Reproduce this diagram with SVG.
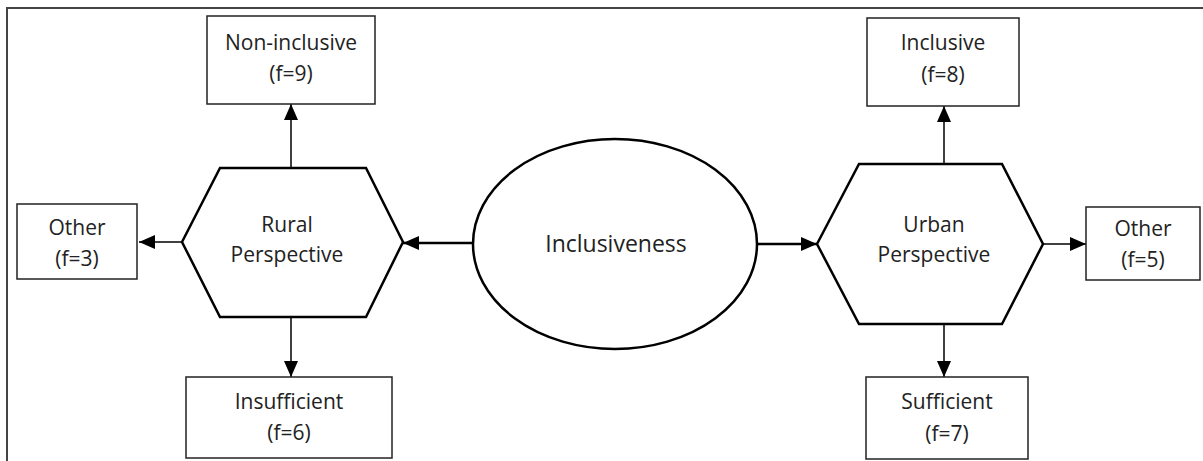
<svg xmlns="http://www.w3.org/2000/svg" width="1203" height="461" viewBox="0 0 1203 461">
  <style>
    .frame { fill: none; stroke: #444; stroke-width: 2; }
    .box { fill: #fff; stroke: #222; stroke-width: 1.5; }
    .hex { fill: #fff; stroke: #000; stroke-width: 2.5; stroke-linejoin: miter; }
    .oval { fill: #fff; stroke: #000; stroke-width: 2.5; }
    .thin { fill: none; stroke: #000; stroke-width: 1.5; }
    .thick { fill: none; stroke: #000; stroke-width: 2.5; }
    text { font-family: "Open Sans", "Liberation Sans", sans-serif; font-size: 21px; fill: #222; text-anchor: middle; }
    .big { font-size: 23px; }
  </style>
  <defs>
    <marker id="arrow" markerUnits="userSpaceOnUse" markerWidth="16" markerHeight="14" refX="16" refY="7" orient="auto">
      <path d="M0,0 L16,7 L0,14 Z" fill="#000"/>
    </marker>
  </defs>
  <rect width="1203" height="461" fill="#fff"/>

  <!-- page frame: top and left rules only -->
  <path class="frame" d="M7,461 V8 H1203"/>

  <!-- connectors -->
  <g id="connectors">
    <line class="thick" x1="473" y1="243" x2="403" y2="243" marker-end="url(#arrow)"/>
    <line class="thick" x1="757" y1="244" x2="817" y2="244" marker-end="url(#arrow)"/>
    <line class="thin" x1="291" y1="168" x2="291" y2="104" marker-end="url(#arrow)"/>
    <line class="thin" x1="182" y1="242" x2="139" y2="242" marker-end="url(#arrow)"/>
    <line class="thin" x1="291" y1="317" x2="291" y2="377" marker-end="url(#arrow)"/>
    <line class="thin" x1="944" y1="164" x2="944" y2="106" marker-end="url(#arrow)"/>
    <line class="thin" x1="1043" y1="244" x2="1086" y2="244" marker-end="url(#arrow)"/>
    <line class="thin" x1="944" y1="324" x2="944" y2="377" marker-end="url(#arrow)"/>
  </g>

  <g id="inclusiveness">
    <ellipse class="oval" cx="615" cy="244" rx="142" ry="105"/>
    <text class="big" x="616" y="252">Inclusiveness</text>
  </g>

  <g id="rural-perspective">
    <polygon class="hex" points="182,242 220,168 366,168 403,242 366,317 220,317"/>
    <text x="287" y="232">Rural</text>
    <text x="287" y="262">Perspective</text>
  </g>

  <g id="urban-perspective">
    <polygon class="hex" points="817,244 859,164 1002,164 1043,244 1002,324 859,324"/>
    <text x="934" y="232">Urban</text>
    <text x="934" y="262">Perspective</text>
  </g>

  <g id="non-inclusive">
    <rect class="box" x="207" y="16" width="168" height="88"/>
    <text x="291" y="50">Non-inclusive</text>
    <text x="291" y="81">(f=9)</text>
  </g>

  <g id="rural-other">
    <rect class="box" x="17" y="204" width="120" height="75"/>
    <text x="77" y="235">Other</text>
    <text x="77" y="266">(f=3)</text>
  </g>

  <g id="insufficient">
    <rect class="box" x="186" y="377" width="206" height="81"/>
    <text x="289" y="409">Insufficient</text>
    <text x="289" y="440">(f=6)</text>
  </g>

  <g id="inclusive">
    <rect class="box" x="867" y="18" width="152" height="88"/>
    <text x="943" y="50">Inclusive</text>
    <text x="943" y="82">(f=8)</text>
  </g>

  <g id="urban-other">
    <rect class="box" x="1086" y="207" width="114" height="73"/>
    <text x="1143" y="236">Other</text>
    <text x="1143" y="267">(f=5)</text>
  </g>

  <g id="sufficient">
    <rect class="box" x="866" y="377" width="162" height="82"/>
    <text x="947" y="409">Sufficient</text>
    <text x="947" y="441">(f=7)</text>
  </g>
</svg>
